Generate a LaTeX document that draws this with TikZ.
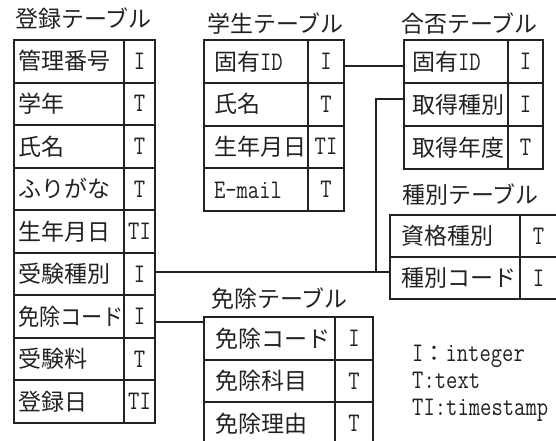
\documentclass[tikz,border=0pt]{standalone}
\usepackage{fontspec}
\usepackage{graphicx}
\newfontfamily\jp{Noto Sans CJK JP}
\usetikzlibrary{calc}
\definecolor{ink}{HTML}{222222}
\newcommand\latn[1]{\scalebox{1}[1.22]{\fontsize{22}{22}\selectfont\ttfamily #1}}
\tikzset{
  box/.style={draw=ink, line width=2pt, inner sep=0pt, outer sep=0pt, rectangle},
  lab/.style={inner sep=0pt, outer sep=0pt, font=\fontsize{23}{23}\jp, text=ink},
  typ/.style={inner sep=0pt, outer sep=0pt, text=ink},
  ttl/.style={inner sep=0pt, font=\fontsize{23}{23}\jp, text=ink, anchor=base west},
  link/.style={draw=ink, line width=2pt},
  leg/.style={inner sep=0pt, font=\fontsize{22}{22}\jp, text=ink, anchor=base west}
}
% #1 name, #2 x0, #3 x1 (divider), #4 x2, #5 top, #6 row height, #7 left padding, #8 rows
\newcommand\mktable[8]{%
  \foreach \n/\t [count=\i] in {#8}{%
    \pgfmathsetmacro\ya{#5+(\i-1)*#6}%
    \node[box, minimum width={(#3)-(#2)}, minimum height={#6}, anchor=north west] (#1\i) at (#2,\ya) {};
    \node[box, minimum width={(#4)-(#3)}, minimum height={#6}, anchor=north west] (#1\i t) at (#3,\ya) {};
    \node[lab, anchor=base west] (#1\i n) at ($(#1\i.west)+(#7,8.7)$) {\n};
    \node[typ, anchor=base] (#1\i v) at ($(#1\i t.center)+(0,8.1)$) {\latn{\t}};
  }%
}
\begin{document}
\begin{tikzpicture}[x=1pt,y=-1pt]
\useasboundingbox[fill=white] (0,0) rectangle (556,441);

% titles
\node[ttl] (regT) at (15,28) {登録テーブル};
\node[ttl] (stuT) at (207,33) {学生テーブル};
\node[ttl] (pfT) at (401,33) {合否テーブル};
\node[ttl] (kndT) at (402,203) {種別テーブル};
\node[ttl] (mxT) at (211,307) {免除テーブル};

% tables
\mktable{reg}{14}{124}{155}{40}{42.56}{4}{管理番号/I, 学年/T, 氏名/T, ふりがな/T, 生年月日/TI, 受験種別/I, \scalebox{0.92}[1]{免除コード}/I, 受験料/T, 登録日/TI}
\mktable{stu}{204}{308}{344}{40}{42.75}{10}{固有\latn{ID}/I, 氏名/T, 生年月日/TI, \latn{E-mail}/T}
\mktable{pf}{404}{508}{543}{40}{43}{8}{固有\latn{ID}/I, 取得種別/I, 取得年度/T}
\mktable{knd}{390}{520}{557}{215}{42}{11}{資格種別/T, 種別コード/I}
\mktable{mx}{204}{335}{373}{317}{42.7}{11}{免除コード/I, 免除科目/T, 免除理由/T}

% connectors
\draw[link] ([yshift=-4.6pt]stu1t.east) -- ([yshift=-4.6pt]stu1t.east -| pf1.west);
\coordinate (jn) at (376,272);
\draw[link] (reg6t.east |- jn) -- (knd2.west |- jn);
\draw[link] (jn) |- ([yshift=5pt]pf2.west);
\draw[link] ([yshift=-5pt]reg7t.east) -- ([yshift=-5pt]reg7t.east -| mx1.west);

% legend
\node[leg] (lgI) at (412,361) {\latn{I}：\latn{integer}};
\node[leg] (lgT) at (412,388) {\latn{T:text}};
\node[leg] (lgTI) at (412,415) {\latn{TI:timestamp}};
\end{tikzpicture}
\end{document}
